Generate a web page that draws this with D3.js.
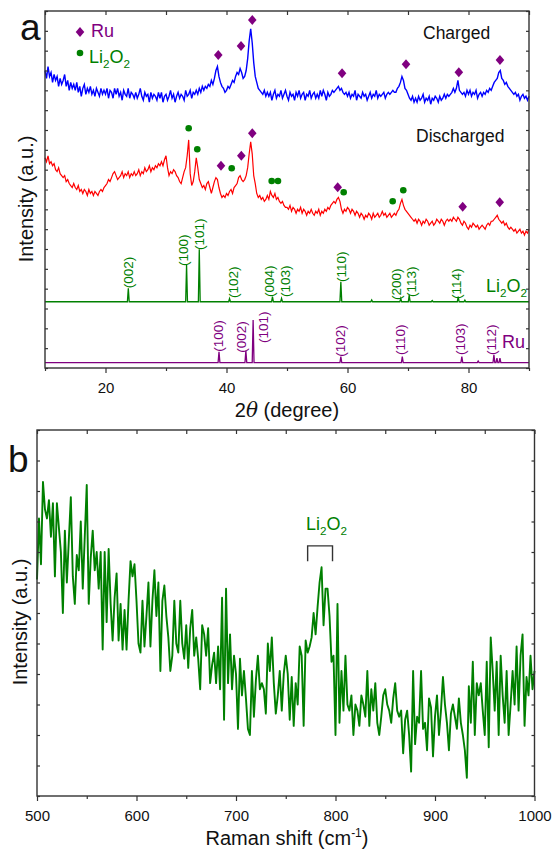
<!DOCTYPE html>
<html>
<head>
<meta charset="utf-8">
<script src="https://cdn.jsdelivr.net/npm/d3@7"></script>
<style>
  body { margin: 0; background: #fff; }
</style>
</head>
<body>
<div class="chart"></div>
<script>
// ---- Data ----
// XRD scans, sampled every 0.25 degree from 10 to 90 (arbitrary units).
const xrdStart = 10, xrdStep = 0.25;
const charged = [
  150,146,152,147,149,144,148,145,147,142,146,143,145,148,142,145,140,144,141,143,
  140,144,139,142,137,141,143,138,141,139,142,138,140,137,141,139,137,141,138,140,
  138,141,136,140,139,136,141,138,141,137,139,135,140,138,137,141,136,139,138,136,
  139,136,138,141,137,135,139,137,138,134,139,136,138,137,135,139,136,139,134,137,
  138,135,137,140,136,138,134,137,139,136,138,137,135,140,137,138,140,136,139,138,
  140,138,141,139,142,140,142,141,143,142,145,143,
  146,150,152,147,144,142,141,139,140,142,141,143,145,144,147,149,148,151,149,146,
  147,150,156,165,171,164,154,147,144,141,140,139,138,140,137,139,
  137,139,135,138,140,136,138,137,140,136,138,140,137,135,139,137,138,135,139,137,
  140,136,138,139,135,138,137,140,136,138,139,136,138,136,140,137,140,138,135,139,
  137,138,140,139,
  140,141,142,140,141,139,138,139,
  137,139,136,138,137,140,135,138,137,136,139,137,138,135,137,139,136,138,137,140,
  136,138,137,138,139,136,138,139,138,139,140,139,
  139,141,142,144,147,145,141,140,
  138,136,135,137,134,136,134,137,135,136,138,134,136,135,137,133,136,135,137,136,
  134,137,135,136,138,136,138,137,
  138,139,141,139,141,145,140,139,
  138,139,137,140,138,140,137,139,138,140,136,138,139,137,139,138,140,139,141,140,
  142,144,145,146,149,150,146,145,143,144,142,141,
  140,139,138,139,137,138,135,137,138,136,137,135,137
];
const discharged = [
  106,104,107,103,104,102,103,100,99,101,98,97,96,97,94,95,93,92,91,93,
  91,90,92,89,90,88,90,89,87,90,88,89,87,89,88,87,89,90,89,91,
  92,93,95,94,96,98,99,97,95,96,97,99,96,98,97,99,96,98,97,99,
  97,98,100,97,99,98,101,99,100,102,99,101,100,102,101,103,102,104,102,105,
  107,101,97,99,98,100,99,97,96,94,93,96,
  99,101,107,115,98,92,94,99,106,101,95,93,91,92,90,93,94,91,88,91,
  94,96,95,91,88,86,87,86,
  88,87,89,90,88,91,92,93,96,97,95,94,
  95,97,101,108,114,108,97,93,88,86,87,85,
  86,84,85,87,85,89,87,86,88,85,86,84,83,84,82,81,
  81,80,82,79,81,80,78,80,79,81,78,80,79,77,79,78,80,78,77,79,
  78,80,77,79,78,80,79,81,80,82,83,84,
  83,85,86,84,80,78,80,79,
  81,80,78,80,79,77,79,78,76,78,77,75,77,76,78,77,75,78,76,77,
  78,76,77,79,77,78,76,77,78,76,77,78,
  77,79,80,83,85,82,80,79,
  78,77,76,75,74,75,73,75,74,72,74,73,75,74,72,73,74,72,73,75,
  74,73,75,74,72,74,75,74,
  75,74,76,75,74,76,75,73,72,74,73,71,
  70,72,71,73,72,71,72,70,71,72,71,70,72,73,72,74,
  74,75,76,77,75,74,73,74,72,73,71,70,
  71,70,69,70,68,69,70,68,69,67,69,68,70
];

// Peak markers on the scans (2theta, intensity).
const chargedRuPos = [38.64, 42.4, 44.26, 59.1, 69.67, 78.4, 85.2];
const chargedRuVal = [157.8, 162.4, 175.5, 148.6, 153.2, 149.1, 155.3];
const dischargedRuPos = [39.09, 42.45, 44.26, 58.38, 79.04, 85.16];
const dischargedRuVal = [102, 107, 118.4, 91.1, 81.3, 83.6];
const dischargedLiPos = [33.75, 35.17, 40.86, 47.47, 48.51, 59.37, 67.47, 69.22];
const dischargedLiVal = [120.9, 110.3, 100.7, 94.3, 94.3, 88.6, 84.1, 89.6];

// Reference patterns (stick peaks).
const li2o2Base = 33.4;
const li2o2PeakPos = [23.77, 33.4, 35.5, 40.5, 47.6, 49.1, 58.9, 64.0, 68.8, 70.2, 74.0, 78.3, 79.4];
const li2o2PeakTop = [40.2, 51.9, 59.9, 35, 36, 35.1, 43.5, 34.3, 35.1, 36.8, 34, 36, 34.2];
const li2o2Hkl = ['(002)', '(100)', '(101)', '(102)', '(004)', '(103)', '(110)', '(200)', '(113)', '(114)'];
const li2o2LabelPos = [23.77, 32.85, 35.42, 41.2, 47.0, 49.7, 58.9, 68.0, 70.5, 77.9];
const li2o2LabelBase = [40.2, 51.4, 59.5, 35.3, 35.8, 35.8, 43.4, 34.3, 35.8, 34.8];

const ruBase = 2.7;
const ruPeakPos = [38.76, 43.2, 44.4, 58.9, 69.06, 78.9, 81.6, 84.2, 84.7, 85.2];
const ruPeakTop = [8.2, 8.7, 24.2, 5.7, 5.7, 5.7, 3.5, 6.6, 5, 5];
const ruHkl = ['(100)', '(002)', '(101)', '(102)', '(110)', '(103)', '(112)'];
const ruLabelPos = [38.6, 42.5, 46.1, 58.76, 68.8, 78.6, 83.8];
const ruLabelBase = [8.2, 7.7, 12.6, 5.7, 6.6, 6.6, 6.6];

// Raman spectrum, sampled every 2 cm-1 from 500 to 1000.
const ramanStart = 500, ramanStep = 2;
const raman = [
  71,91,76,103,94,91,97,85,96,72,96,88,80,60,87,70,84,98,72,63,
  79,74,90,68,85,102,63,78,87,74,80,68,80,48,80,57,81,63,51,65,
  73,51,63,48,61,48,64,77,72,76,64,50,47,64,49,59,70,49,64,74,
  59,70,41,64,69,59,52,41,46,64,50,47,64,50,45,56,42,55,61,46,
  52,45,35,56,53,46,55,37,43,47,37,49,35,65,25,68,37,53,35,46,
  40,22,45,33,41,32,22,20,41,26,38,46,35,37,35,27,50,41,
  52,37,27,33,41,28,40,46,40,25,39,23,37,30,49,46,23,51,47,49,
  52,60,53,62,70,75,56,68,68,59,44,46,20,63,24,41,28,46,30,28,
  33,20,30,28,23,33,30,26,41,23,35,28,37,24,20,26,33,35,30,28,
  24,32,37,28,26,28,14,25,28,20,8,41,17,26,24,41,22,24,15,32,
  29,13,26,33,20,28,39,30,24,15,27,30,26,22,32,24,20,15,6,36,
  24,44,20,37,33,37,28,20,44,16,52,41,28,44,20,46,33,24,41,20,
  30,41,30,49,28,46,53,23,39,33,46,35,41
];
const ramanBracket = [772, 797];
const ramanBracketTop = 82, ramanBracketFoot = 77;

// Axis ticks.
const xaMajor = [20, 40, 60, 80];
const xaMinor = [10, 30, 50, 70, 90];
const xbMajor = [500, 600, 700, 800, 900, 1000];
const xbMinor = [550, 650, 750, 850, 950];

// ---- Drawing ----
const FONT = '"Liberation Sans", Arial, Helvetica, sans-serif';
const BLUE = '#0000ff', RED = '#ff0000', GREEN = '#008000', PURPLE = '#800080', FRAME = '#333';

const svg = d3.select('.chart')
  .append('svg')
  .attr('width', 555)
  .attr('height', 851)
  .attr('font-family', FONT);

function li2o2(text, size) {
  text.append('tspan').text('Li');
  text.append('tspan').text('2').attr('font-size', size * 0.65).attr('dy', size * 0.3);
  text.append('tspan').text('O').attr('dy', -size * 0.3);
  text.append('tspan').text('2').attr('font-size', size * 0.65).attr('dy', size * 0.3);
}

function frameAxes(g, x, y, xMajor, xMinor, xTop, yTicks) {
  const [x0, x1] = x.range();
  const [y0, y1] = y.range();
  const noDomain = s => s.select('.domain').remove();

  g.append('g')
    .attr('transform', `translate(0,${y0})`)
    .call(d3.axisBottom(x).tickValues(xMinor).tickSize(3).tickFormat(''))
    .call(noDomain);
  g.append('g')
    .attr('class', 'x-major')
    .attr('transform', `translate(0,${y0})`)
    .call(d3.axisBottom(x).tickValues(xMajor).tickSize(5).tickPadding(9.5).tickFormat(d3.format('d')))
    .call(noDomain);
  g.append('g')
    .attr('transform', `translate(0,${y1})`)
    .call(d3.axisTop(x).tickValues(xTop).tickSize(-4).tickFormat(''))
    .call(noDomain);
  g.append('g')
    .attr('transform', `translate(${x0},0)`)
    .call(d3.axisLeft(y).tickValues(yTicks).tickSize(-3).tickFormat(''))
    .call(noDomain);
  g.append('g')
    .attr('transform', `translate(${x1},0)`)
    .call(d3.axisRight(y).tickValues(yTicks).tickSize(-3).tickFormat(''))
    .call(noDomain);

  g.selectAll('.tick line').attr('stroke', FRAME).attr('stroke-width', 1.2);
  g.selectAll('.x-major text').attr('font-size', 15).attr('fill', '#111').attr('font-family', FONT);

  g.append('rect')
    .attr('x', x0).attr('y', y1)
    .attr('width', x1 - x0).attr('height', y0 - y1)
    .attr('fill', 'none')
    .attr('stroke', FRAME)
    .attr('stroke-width', 1.4);
}

// Panel a: XRD.
const xA = d3.scaleLinear().domain([10, 90]).range([45, 529]);
const yA = d3.scaleLinear().domain([0, 180]).range([368, 11]);
const pa = svg.append('g').attr('class', 'panel-a');

const scanLine = d3.line()
  .x((d, i) => xA(xrdStart + i * xrdStep))
  .y(d => yA(d));

pa.append('path').datum(discharged)
  .attr('d', scanLine).attr('fill', 'none').attr('stroke', RED).attr('stroke-width', 1.2);
pa.append('path').datum(charged)
  .attr('d', scanLine).attr('fill', 'none').attr('stroke', BLUE).attr('stroke-width', 1.4);

function stickPattern(pos, top, base) {
  const pts = [[10, base]];
  d3.range(pos.length).forEach(i => {
    pts.push([pos[i] - 0.15, base], [pos[i], top[i]], [pos[i] + 0.15, base]);
  });
  pts.push([90, base]);
  return pts;
}
const stickLine = d3.line().x(d => xA(d[0])).y(d => yA(d[1]));

pa.append('path').datum(stickPattern(li2o2PeakPos, li2o2PeakTop, li2o2Base))
  .attr('d', stickLine).attr('fill', 'none').attr('stroke', GREEN).attr('stroke-width', 1.3);
pa.append('path').datum(stickPattern(ruPeakPos, ruPeakTop, ruBase))
  .attr('d', stickLine).attr('fill', 'none').attr('stroke', PURPLE).attr('stroke-width', 1.3);

function hklLabels(hkl, pos, base, color) {
  pa.selectAll(null)
    .data(hkl)
    .enter()
    .append('text')
    .attr('transform', (d, i) => `translate(${xA(pos[i])},${yA(base[i])}) rotate(-90)`)
    .attr('dy', '0.35em')
    .attr('font-size', 13.5)
    .attr('fill', color)
    .text(d => d);
}
hklLabels(li2o2Hkl, li2o2LabelPos, li2o2LabelBase, GREEN);
hklLabels(ruHkl, ruLabelPos, ruLabelBase, PURPLE);

// Markers.
const diamond = 'M0,-5L4.3,0L0,5L-4.3,0Z';
function diamonds(pos, val) {
  pa.selectAll(null)
    .data(pos)
    .enter()
    .append('path')
    .attr('d', diamond)
    .attr('transform', (d, i) => `translate(${xA(d)},${yA(val[i])})`)
    .attr('fill', PURPLE);
}
diamonds(chargedRuPos, chargedRuVal);
diamonds(dischargedRuPos, dischargedRuVal);
pa.selectAll(null)
  .data(dischargedLiPos)
  .enter()
  .append('circle')
  .attr('cx', d => xA(d))
  .attr('cy', (d, i) => yA(dischargedLiVal[i]))
  .attr('r', 3.3)
  .attr('fill', GREEN);

// Legend.
pa.append('path').attr('d', diamond).attr('transform', `translate(80,32)`).attr('fill', PURPLE);
pa.append('text').attr('x', 91).attr('y', 37).attr('font-size', 18).attr('fill', PURPLE).text('Ru');
pa.append('circle').attr('cx', 80).attr('cy', 53).attr('r', 3.3).attr('fill', GREEN);
pa.append('text').attr('x', 89).attr('y', 63).attr('font-size', 18).attr('fill', GREEN).call(li2o2, 18);

pa.append('text').attr('x', 423).attr('y', 39).attr('font-size', 17.5).attr('fill', '#111').text('Charged');
pa.append('text').attr('x', 416).attr('y', 142).attr('font-size', 17.5).attr('fill', '#111').text('Discharged');
pa.append('text').attr('x', 486).attr('y', 292).attr('font-size', 18).attr('fill', GREEN).call(li2o2, 18);
pa.append('text').attr('x', 502).attr('y', 348).attr('font-size', 18).attr('fill', PURPLE).text('Ru');

frameAxes(pa, xA, yA, xaMajor, xaMinor, d3.range(10, 91, 10), d3.range(0, 181, 10));

const xTitleA = pa.append('text')
  .attr('x', 287).attr('y', 417)
  .attr('text-anchor', 'middle')
  .attr('font-size', 20)
  .attr('fill', '#111');
xTitleA.append('tspan').text('2');
xTitleA.append('tspan').attr('font-style', 'italic').attr('font-family', '"DejaVu Serif", serif').text('θ');
xTitleA.append('tspan').text(' (degree)');

pa.append('text')
  .attr('transform', 'translate(33,199) rotate(-90)')
  .attr('text-anchor', 'middle')
  .attr('font-size', 20)
  .attr('fill', '#111')
  .text('Intensity (a.u.)');

pa.append('text').attr('x', 20).attr('y', 40).attr('font-size', 37).attr('fill', '#111').text('a');

// Panel b: Raman.
const xB = d3.scaleLinear().domain([500, 1000]).range([37, 534.5]);
const yB = d3.scaleLinear().domain([0, 120]).range([796, 430]);
const pb = svg.append('g').attr('class', 'panel-b');

pb.append('path').datum(raman)
  .attr('d', d3.line().x((d, i) => xB(ramanStart + i * ramanStep)).y(d => yB(d)))
  .attr('fill', 'none')
  .attr('stroke', GREEN)
  .attr('stroke-width', 1.9)
  .attr('stroke-linejoin', 'round');

pb.append('path')
  .datum([[ramanBracket[0], ramanBracketFoot], [ramanBracket[0], ramanBracketTop],
          [ramanBracket[1], ramanBracketTop], [ramanBracket[1], ramanBracketFoot]])
  .attr('d', d3.line().x(d => xB(d[0])).y(d => yB(d[1])))
  .attr('fill', 'none')
  .attr('stroke', '#333')
  .attr('stroke-width', 1.4);
pb.append('text').attr('x', 306).attr('y', 530).attr('font-size', 18).attr('fill', GREEN).call(li2o2, 18);

frameAxes(pb, xB, yB, xbMajor, xbMinor, d3.range(500, 1001, 50), d3.range(0, 121, 10));

const xTitleB = pb.append('text')
  .attr('x', 287).attr('y', 845)
  .attr('text-anchor', 'middle')
  .attr('font-size', 20)
  .attr('fill', '#111');
xTitleB.append('tspan').text('Raman shift (cm');
xTitleB.append('tspan').attr('font-size', 12).attr('dy', -8).text('-1');
xTitleB.append('tspan').attr('dy', 8).text(')');

pb.append('text')
  .attr('transform', 'translate(27,622) rotate(-90)')
  .attr('text-anchor', 'middle')
  .attr('font-size', 20)
  .attr('fill', '#111')
  .text('Intensity (a.u.)');

pb.append('text').attr('x', 8).attr('y', 472).attr('font-size', 37).attr('fill', '#111').text('b');
</script>
</body>
</html>
